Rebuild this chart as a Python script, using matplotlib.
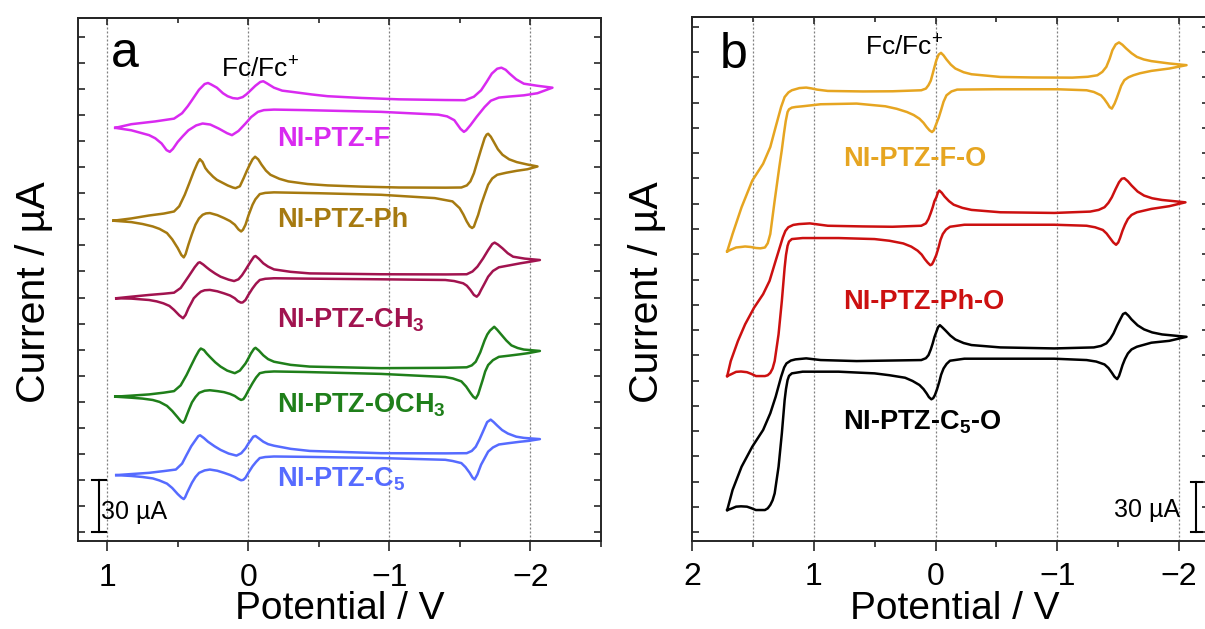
import numpy as np
import matplotlib.pyplot as plt

plt.rcParams['font.family'] = ['Liberation Sans', 'DejaVu Sans']
plt.rcParams['mathtext.fontset'] = 'custom'
plt.rcParams['mathtext.rm'] = 'Liberation Sans'
plt.rcParams['mathtext.it'] = 'Liberation Sans:italic'
plt.rcParams['mathtext.bf'] = 'Liberation Sans:bold'

# ---- panel a: NI-PTZ-X, (potential V, stacked current uA incl. offset), one closed CV loop each
f_pts = [(0.944, 232.6), (0.83, 234.7), (0.66, 236.3), (0.527, 237.9), (0.47, 241.0), (0.43, 245.0),
         (0.40, 248.5), (0.35, 254.5), (0.31, 257.8), (0.286, 258.4), (0.265, 257.6), (0.223, 255.7),
         (0.18, 252.5), (0.147, 250.8), (0.11, 249.7), (0.076, 249.4), (0.04, 250.3), (0.015, 251.8),
         (-0.005, 253.3), (-0.05, 256.8), (-0.085, 259.0), (-0.106, 259.4), (-0.13, 258.3),
         (-0.182, 255.7), (-0.24, 254.0), (-0.309, 253.3), (-0.45, 251.8), (-0.562, 250.8),
         (-0.8, 249.8), (-1.068, 249.0), (-1.4, 248.6), (-1.537, 248.5), (-1.6, 250.5), (-1.651, 254.2),
         (-1.69, 259.0), (-1.727, 263.8), (-1.765, 266.6), (-1.795, 267.2), (-1.825, 266.0),
         (-1.853, 263.8), (-1.9, 260.5), (-1.954, 258.0), (-2.05, 256.8), (-2.157, 255.7),
         (-2.05, 252.5), (-1.954, 251.3), (-1.85, 250.6), (-1.777, 250.0), (-1.72, 248.2),
         (-1.676, 244.6), (-1.62, 239.0), (-1.575, 234.1), (-1.545, 231.2), (-1.529, 230.3),
         (-1.505, 232.0), (-1.461, 237.0), (-1.41, 239.2), (-1.347, 240.2), (-0.942, 241.8),
         (-0.4, 242.8), (-0.182, 243.1), (-0.11, 242.8), (-0.068, 241.8), (-0.02, 238.8),
         (0.02, 235.1), (0.07, 230.8), (0.116, 228.4), (0.15, 229.5), (0.21, 232.2), (0.27, 234.5),
         (0.324, 235.1), (0.37, 234.0), (0.425, 231.2), (0.465, 227.8), (0.501, 224.5),
         (0.535, 220.5), (0.557, 218.8), (0.58, 219.8), (0.615, 223.6), (0.66, 226.6),
         (0.704, 228.4), (0.83, 231.2), (0.944, 232.6)]

ph_pts = [(0.957, 179.2), (0.83, 180.5), (0.704, 182.2), (0.6, 183.3), (0.527, 184.5), (0.49, 187.5),
          (0.451, 194.1), (0.42, 200.5), (0.387, 207.5), (0.36, 212.5), (0.344, 214.6), (0.325, 213.0),
          (0.305, 209.5), (0.286, 207.5), (0.25, 204.5), (0.223, 202.7), (0.147, 199.5), (0.11, 198.3),
          (0.091, 197.9), (0.06, 199.0), (0.033, 203.7), (0.01, 208.0), (-0.01, 211.4), (-0.03, 214.5),
          (-0.048, 216.0), (-0.07, 214.5), (-0.094, 211.4), (-0.125, 208.0), (-0.157, 205.6),
          (-0.22, 203.3), (-0.284, 201.8), (-0.42, 200.3), (-0.562, 199.5), (-0.8, 198.8),
          (-1.068, 198.3), (-1.4, 198.2), (-1.511, 198.3), (-1.55, 199.5), (-1.575, 201.8),
          (-1.6, 206.5), (-1.625, 213.3), (-1.65, 220.0), (-1.676, 226.7), (-1.69, 228.7),
          (-1.701, 229.2), (-1.72, 227.5), (-1.739, 224.8), (-1.77, 220.3), (-1.803, 217.1),
          (-1.85, 214.5), (-1.904, 212.9), (-1.98, 211.5), (-2.051, 210.4),
          (-1.98, 208.8), (-1.904, 207.9), (-1.83, 206.8), (-1.765, 205.6), (-1.73, 203.5),
          (-1.701, 199.9), (-1.675, 194.0), (-1.651, 188.4), (-1.63, 182.5), (-1.613, 178.8),
          (-1.6, 175.8), (-1.587, 175.0), (-1.57, 176.0), (-1.549, 178.8), (-1.525, 182.8),
          (-1.499, 186.4), (-1.448, 190.3), (-1.322, 192.2), (-0.942, 194.1), (-0.5, 195.0),
          (-0.182, 195.5), (-0.12, 195.2), (-0.081, 194.5), (-0.05, 191.5), (-0.03, 188.4),
          (0.0, 182.0), (0.02, 176.9), (0.038, 174.0), (0.051, 173.0), (0.07, 174.2), (0.096, 176.9),
          (0.13, 179.0), (0.172, 180.7), (0.22, 182.4), (0.273, 183.6), (0.3, 183.4), (0.324, 182.6),
          (0.35, 180.5), (0.375, 176.9), (0.4, 171.5), (0.425, 165.4), (0.445, 160.0), (0.458, 158.1),
          (0.475, 159.5), (0.501, 163.5), (0.54, 168.5), (0.577, 172.1), (0.63, 174.5),
          (0.678, 175.9), (0.75, 177.3), (0.83, 178.4), (0.957, 179.2)]

ch3_pts = [(0.937, 134.6), (0.83, 135.5), (0.704, 136.5), (0.6, 137.2), (0.527, 137.8), (0.48, 140.5),
           (0.425, 147.0), (0.38, 152.5), (0.355, 155.0), (0.344, 155.3), (0.32, 154.0), (0.295, 152.3),
           (0.273, 150.9), (0.235, 148.8), (0.197, 147.0), (0.14, 145.3), (0.101, 144.5), (0.07, 145.5),
           (0.045, 147.8), (0.02, 150.9), (-0.015, 155.5), (-0.04, 158.5), (-0.051, 158.9),
           (-0.075, 157.3), (-0.106, 154.7), (-0.14, 152.8), (-0.182, 151.2), (-0.3, 149.8),
           (-0.435, 148.9), (-0.942, 148.4), (-1.4, 148.3), (-1.549, 148.4), (-1.59, 150.0),
           (-1.625, 152.8), (-1.665, 157.5), (-1.701, 162.3), (-1.73, 165.8), (-1.747, 166.6),
           (-1.77, 165.5), (-1.803, 163.3), (-1.84, 160.5), (-1.878, 158.5), (-1.96, 157.4),
           (-2.068, 156.6), (-1.99, 155.5), (-1.929, 154.7), (-1.85, 153.5), (-1.777, 152.4),
           (-1.735, 150.3), (-1.701, 147.0), (-1.675, 143.0), (-1.651, 139.4), (-1.635, 136.8),
           (-1.62, 135.5), (-1.6, 136.5), (-1.575, 139.4), (-1.55, 141.8), (-1.524, 143.2),
           (-1.46, 144.5), (-1.397, 145.1), (-0.942, 145.5), (-0.4, 145.9), (-0.182, 146.1),
           (-0.12, 145.8), (-0.081, 145.1), (-0.055, 143.0), (-0.03, 140.3), (0.0, 136.5),
           (0.02, 133.6), (0.04, 132.2), (0.053, 132.1), (0.075, 133.0), (0.096, 134.6),
           (0.13, 136.2), (0.172, 137.4), (0.22, 138.6), (0.273, 139.4), (0.31, 139.2),
           (0.337, 138.4), (0.36, 136.8), (0.387, 134.6), (0.405, 131.8), (0.425, 128.8),
           (0.445, 125.0), (0.463, 123.1), (0.49, 124.8), (0.527, 127.9), (0.56, 130.2),
           (0.603, 131.7), (0.65, 132.8), (0.704, 133.6), (0.83, 134.4), (0.937, 134.6)]

och3_pts = [(0.944, 78.0), (0.83, 78.6), (0.704, 79.3), (0.6, 80.3), (0.527, 81.2), (0.48, 84.5),
            (0.438, 90.5), (0.405, 96.0), (0.375, 100.9), (0.35, 104.5), (0.337, 105.7), (0.315, 104.8),
            (0.295, 102.8), (0.273, 100.9), (0.235, 97.8), (0.197, 95.3), (0.15, 93.0), (0.096, 91.5),
            (0.06, 93.0), (0.02, 97.1), (0.0, 100.0), (-0.018, 102.8), (-0.04, 105.5), (-0.051, 106.1),
            (-0.075, 104.5), (-0.106, 101.8), (-0.14, 99.6), (-0.182, 98.1), (-0.3, 96.3),
            (-0.435, 95.3), (-0.942, 94.4), (-1.4, 94.6), (-1.549, 94.9), (-1.585, 96.0),
            (-1.613, 98.1), (-1.645, 103.5), (-1.676, 110.4), (-1.695, 113.8), (-1.714, 116.0),
            (-1.744, 118.2), (-1.765, 116.5), (-1.79, 114.1), (-1.83, 110.3), (-1.866, 107.5),
            (-1.91, 106.0), (-1.954, 105.1), (-2.068, 104.3), (-1.99, 103.1), (-1.929, 102.4),
            (-1.85, 101.6), (-1.777, 100.9), (-1.735, 99.0), (-1.701, 96.2), (-1.68, 92.5),
            (-1.663, 87.8), (-1.645, 83.2), (-1.63, 79.3), (-1.613, 76.9), (-1.595, 78.0),
            (-1.575, 80.2), (-1.545, 83.8), (-1.511, 86.8), (-1.45, 88.5), (-1.397, 89.3),
            (-0.942, 91.1), (-0.4, 92.2), (-0.182, 92.5), (-0.12, 92.2), (-0.081, 91.5),
            (-0.055, 89.0), (-0.03, 85.8), (0.0, 81.5), (0.02, 78.4), (0.035, 76.6), (0.051, 76.1),
            (0.07, 76.9), (0.096, 78.4), (0.13, 79.6), (0.172, 80.6), (0.22, 81.2), (0.273, 81.7),
            (0.31, 81.4), (0.349, 80.2), (0.375, 77.8), (0.4, 74.7), (0.42, 70.8), (0.438, 67.1),
            (0.45, 64.5), (0.463, 63.0), (0.48, 64.0), (0.501, 66.1), (0.54, 69.8), (0.577, 72.7),
            (0.63, 75.0), (0.678, 76.1), (0.75, 76.9), (0.83, 77.4), (0.944, 78.0)]

c5_pts = [(0.937, 32.9), (0.83, 33.5), (0.704, 34.2), (0.6, 35.2), (0.514, 36.1), (0.47, 39.5),
          (0.438, 44.5), (0.405, 49.5), (0.375, 53.0), (0.355, 55.3), (0.342, 55.8), (0.315, 54.2),
          (0.286, 52.1), (0.24, 49.5), (0.197, 47.4), (0.14, 45.3), (0.084, 44.1), (0.05, 45.5),
          (0.02, 48.3), (0.0, 51.0), (-0.018, 53.0), (-0.035, 55.0), (-0.051, 55.4), (-0.075, 54.0),
          (-0.106, 52.1), (-0.14, 50.7), (-0.182, 49.8), (-0.3, 48.0), (-0.435, 46.8), (-0.942, 45.5),
          (-1.4, 45.4), (-1.549, 45.5), (-1.585, 46.8), (-1.613, 49.2), (-1.64, 53.5), (-1.663, 57.7),
          (-1.694, 63.4), (-1.719, 64.8), (-1.74, 63.4), (-1.765, 61.4), (-1.8, 58.8), (-1.841, 56.8),
          (-1.9, 55.0), (-1.954, 54.3), (-2.068, 53.6), (-1.99, 52.6), (-1.929, 52.1), (-1.85, 51.3),
          (-1.777, 50.5), (-1.735, 48.8), (-1.701, 46.4), (-1.675, 42.5), (-1.651, 38.9),
          (-1.635, 35.5), (-1.625, 33.3), (-1.605, 30.4), (-1.59, 31.5), (-1.57, 34.2), (-1.54, 37.5),
          (-1.511, 39.8), (-1.45, 41.0), (-1.397, 41.7), (-0.942, 42.7), (-0.4, 43.4), (-0.182, 43.6),
          (-0.12, 43.3), (-0.081, 42.7), (-0.055, 40.5), (-0.03, 38.0), (0.0, 34.2), (0.02, 31.4),
          (0.035, 30.2), (0.051, 29.9), (0.07, 30.6), (0.096, 31.8), (0.13, 33.0), (0.172, 34.2),
          (0.22, 35.4), (0.273, 36.1), (0.31, 35.6), (0.349, 34.2), (0.375, 31.8), (0.4, 28.5),
          (0.418, 25.5), (0.433, 23.0), (0.448, 20.2), (0.458, 19.1), (0.475, 20.0), (0.501, 22.0),
          (0.54, 25.5), (0.577, 28.0), (0.63, 29.8), (0.678, 31.0), (0.75, 31.8), (0.83, 32.4),
          (0.937, 32.9)]

# ---- panel b: NI-PTZ-X-O
fo_pts = [(1.713, 166.7), (1.669, 177.0), (1.595, 192.9), (1.507, 208.7), (1.418, 218.7), (1.359, 228.6),
          (1.315, 240.5), (1.270, 252.4), (1.241, 258.3), (1.21, 261.0), (1.182, 262.3), (1.12, 263.6),
          (1.064, 263.9), (1.02, 263.4), (0.975, 262.7), (0.886, 261.9), (0.6, 261.6), (0.355, 261.7),
          (0.118, 262.3), (0.08, 263.3), (0.059, 265.3), (0.04, 268.0), (0.024, 272.2), (0.01, 276.0),
          (-0.006, 280.2), (-0.025, 283.5), (-0.044, 284.5), (-0.065, 283.0), (-0.089, 280.6),
          (-0.125, 277.5), (-0.162, 275.2), (-0.23, 273.0), (-0.295, 271.8), (-0.532, 270.2),
          (-0.8, 269.9), (-1.123, 269.8), (-1.25, 270.3), (-1.329, 271.2), (-1.37, 273.2),
          (-1.403, 276.2), (-1.43, 281.0), (-1.453, 286.1), (-1.48, 289.5), (-1.507, 290.7),
          (-1.535, 289.3), (-1.566, 287.1), (-1.61, 284.3), (-1.654, 282.1), (-1.71, 280.6),
          (-1.773, 279.6), (-1.92, 278.2), (-2.062, 277.2), (-1.92, 275.2), (-1.773, 273.8),
          (-1.68, 272.4), (-1.625, 271.2), (-1.585, 270.0), (-1.551, 268.3), (-1.525, 265.0),
          (-1.507, 261.3), (-1.488, 257.5), (-1.471, 254.4), (-1.448, 251.4), (-1.43, 252.3),
          (-1.412, 254.4), (-1.385, 257.2), (-1.359, 259.3), (-1.3, 261.3), (-1.241, 262.3),
          (-1.004, 262.9), (-0.5, 262.9), (-0.177, 262.7), (-0.13, 261.6), (-0.089, 259.3),
          (-0.065, 255.5), (-0.044, 250.4), (-0.025, 246.0), (-0.006, 242.5), (0.015, 238.5),
          (0.030, 237.5), (0.05, 238.5), (0.074, 240.5), (0.1, 243.0), (0.133, 245.4), (0.18, 247.6),
          (0.236, 249.4), (0.32, 251.3), (0.414, 252.8), (0.65, 254.4), (0.945, 254.0),
          (1.093, 252.8), (1.15, 252.4), (1.182, 252.0), (1.205, 251.0), (1.217, 249.4),
          (1.232, 244.0), (1.247, 236.5), (1.265, 226.5), (1.285, 216.7), (1.323, 196.8),
          (1.359, 177.0), (1.38, 171.5), (1.403, 169.0), (1.44, 168.5), (1.477, 168.7),
          (1.52, 169.3), (1.566, 169.6), (1.60, 169.3), (1.640, 169.0), (1.68, 167.8), (1.713, 166.7)]

pho_pts = [(1.713, 92.7), (1.684, 101.6), (1.625, 113.5), (1.566, 123.4), (1.492, 133.3), (1.418, 141.3),
           (1.365, 149.2), (1.315, 161.1), (1.256, 175.0), (1.235, 178.8), (1.211, 181.0), (1.17, 182.4),
           (1.123, 182.9), (1.034, 183.3), (0.886, 181.9), (0.6, 181.5), (0.355, 181.3), (0.118, 181.9),
           (0.08, 183.3), (0.059, 185.9), (0.04, 189.5), (0.024, 192.9), (0.01, 196.5), (-0.006, 198.8),
           (-0.018, 201.5), (-0.030, 202.8), (-0.05, 201.5), (-0.074, 199.2), (-0.11, 196.5),
           (-0.148, 194.4), (-0.22, 192.5), (-0.295, 191.3), (-0.532, 189.9), (-0.975, 189.5),
           (-1.270, 190.3), (-1.34, 191.3), (-1.388, 192.9), (-1.42, 195.5), (-1.448, 198.8),
           (-1.48, 203.8), (-1.507, 207.7), (-1.53, 209.8), (-1.551, 210.1), (-1.58, 208.3),
           (-1.610, 205.8), (-1.66, 202.2), (-1.713, 199.8), (-1.78, 198.2), (-1.861, 197.2),
           (-2.053, 195.8), (-1.920, 193.5), (-1.773, 191.9), (-1.654, 189.9), (-1.61, 188.3),
           (-1.580, 185.9), (-1.556, 182.5), (-1.536, 179.0), (-1.515, 174.5), (-1.501, 172.0),
           (-1.483, 170.6), (-1.46, 172.0), (-1.433, 174.6), (-1.405, 177.3), (-1.374, 179.4),
           (-1.31, 181.0), (-1.241, 181.9), (-0.975, 182.5), (-0.236, 182.5), (-0.118, 181.3),
           (-0.085, 179.6), (-0.059, 177.0), (-0.04, 173.5), (-0.024, 169.0), (-0.005, 164.5),
           (0.015, 161.1), (0.03, 159.0), (0.044, 158.5), (0.065, 160.0), (0.089, 162.1),
           (0.115, 164.8), (0.148, 167.1), (0.2, 169.5), (0.266, 171.4), (0.38, 173.0),
           (0.502, 174.0), (0.798, 174.6), (1.093, 174.6), (1.182, 174.0), (1.205, 172.5),
           (1.217, 170.0), (1.23, 164.5), (1.241, 157.1), (1.264, 137.3), (1.291, 117.5),
           (1.323, 101.6), (1.34, 97.2), (1.359, 94.6), (1.38, 93.2), (1.403, 92.7), (1.477, 92.7),
           (1.515, 94.0), (1.551, 95.0), (1.60, 95.4), (1.640, 95.2), (1.68, 93.8), (1.713, 92.7)]

c5o_pts = [(1.713, 13.2), (1.669, 25.1), (1.595, 38.9), (1.507, 50.8), (1.418, 60.7), (1.359, 70.6),
           (1.315, 80.4), (1.270, 92.3), (1.245, 97.8), (1.226, 100.2), (1.19, 101.9), (1.152, 102.6),
           (1.064, 103.2), (0.945, 102.2), (0.650, 101.6), (0.118, 102.2), (0.08, 103.3), (0.059, 105.1),
           (0.04, 108.5), (0.024, 112.1), (0.01, 115.8), (-0.006, 119.0), (-0.02, 121.7),
           (-0.035, 122.9), (-0.055, 121.6), (-0.083, 119.6), (-0.12, 116.8), (-0.162, 114.4),
           (-0.23, 112.3), (-0.295, 111.1), (-0.532, 109.7), (-0.975, 109.1), (-1.300, 109.7),
           (-1.36, 110.6), (-1.403, 112.1), (-1.435, 114.8), (-1.462, 118.0), (-1.49, 122.5),
           (-1.521, 126.9), (-1.54, 129.5), (-1.560, 130.2), (-1.585, 128.5), (-1.610, 126.3),
           (-1.66, 122.8), (-1.713, 120.4), (-1.78, 118.6), (-1.861, 117.4), (-2.062, 116.0),
           (-1.920, 113.6), (-1.773, 112.5), (-1.654, 110.1), (-1.61, 108.5), (-1.580, 106.1),
           (-1.556, 102.8), (-1.536, 99.2), (-1.52, 95.5), (-1.507, 92.7), (-1.492, 90.9),
           (-1.47, 92.3), (-1.448, 94.7), (-1.42, 97.5), (-1.388, 99.6), (-1.32, 101.3),
           (-1.241, 102.2), (-0.975, 103.0), (-0.236, 103.0), (-0.118, 101.8), (-0.09, 99.9),
           (-0.065, 97.2), (-0.045, 93.5), (-0.030, 89.3), (-0.012, 85.0), (0.006, 81.4),
           (0.02, 79.6), (0.035, 78.9), (0.055, 80.2), (0.074, 82.4), (0.1, 85.0), (0.133, 87.4),
           (0.19, 89.8), (0.251, 91.7), (0.38, 93.2), (0.502, 94.3), (0.798, 95.3), (1.093, 95.3),
           (1.182, 94.3), (1.205, 92.8), (1.217, 90.3), (1.23, 85.0), (1.241, 78.5), (1.264, 58.7),
           (1.291, 38.9), (1.323, 23.1), (1.34, 19.0), (1.359, 16.2), (1.38, 14.2), (1.403, 13.2),
           (1.477, 13.2), (1.515, 14.3), (1.551, 15.2), (1.60, 15.4), (1.640, 15.2), (1.68, 14.0),
           (1.713, 13.2)]

labels_a = ['NI-PTZ-F', 'NI-PTZ-Ph', r'NI-PTZ-CH$_\mathbf{3}$',
            r'NI-PTZ-OCH$_\mathbf{3}$', r'NI-PTZ-C$_\mathbf{5}$']
colors_a = ['#D92AF0', '#A67A10', '#A1134F', '#1F7F1A', '#566BFF']
label_y_a = [222.3, 175.6, 117.8, 69.0, 26.1]

labels_b = ['NI-PTZ-F-O', 'NI-PTZ-Ph-O', r'NI-PTZ-C$_\mathbf{5}$-O']
colors_b = ['#E6A521', '#CC1010', '#000000']
label_y_b = [217.3, 132.3, 60.7]

W, H = 1205, 629
fig = plt.figure(figsize=(W / 100, H / 100), dpi=100)
ax_a = fig.add_axes([78.3 / W, (H - 541) / H, 522.5 / W, 522.7 / H])
ax_b = fig.add_axes([692.3 / W, (H - 540.7) / H, 517.1 / W, 523.4 / H])

spine_c = '#262626'


def style(ax, xlim, ylim, major, minor, grid):
    ax.set_xlim(*xlim)
    ax.set_ylim(*ylim)
    for g in grid:
        ax.axvline(g, color='#808080', ls=(0, (1.6, 1.6)), lw=0.9, zorder=0)
    for s in ax.spines.values():
        s.set_linewidth(1.4)
        s.set_color(spine_c)
    ax.set_xticks(major)
    ax.set_xticks(minor, minor=True)
    ax.set_yticks(np.arange(0, ylim[1], 15))
    ax.tick_params(axis='y', which='both', direction='in', left=True, right=True,
                   length=5, width=1.2, color=spine_c, labelleft=False)
    ax.tick_params(axis='x', which='major', direction='out', length=7, width=1.2,
                   color=spine_c, labelsize=23, pad=8.5)
    ax.tick_params(axis='x', which='minor', direction='out', length=4, width=1.2,
                   color=spine_c)
    top = ax.secondary_xaxis('top')
    top.set_xticks(major)
    top.set_xticks(minor, minor=True)
    top.tick_params(which='major', direction='in', length=5, width=1.2,
                    color=spine_c, labeltop=False)
    top.tick_params(which='minor', direction='in', length=3.5, width=1.2,
                    color=spine_c)
    top.spines['top'].set_linewidth(1.4)
    top.spines['top'].set_color(spine_c)


style(ax_a, (1.206, -2.5), (-5.0, 295.6), [1, 0, -1, -2], [0.5, -0.5, -1.5, -2.5],
      [1, 0, -1, -2])
style(ax_b, (2.0, -2.25), (-5.0, 305.6), [2, 1, 0, -1, -2], [1.5, 0.5, -0.5, -1.5],
      [1.5, 1, 0, -1, -2])

curves_a = [f_pts, ph_pts, ch3_pts, och3_pts, c5_pts]
for pts, c, lab, ly in zip(curves_a, colors_a, labels_a, label_y_a):
    v, i = np.array(pts).T
    ax_a.plot(v, i, color=c, lw=1.8, solid_joinstyle='round')
    ax_a.text(-0.205, ly, lab, color=c, fontsize=19.5, fontweight='bold',
              ha='left', va='baseline')

curves_b = [fo_pts, pho_pts, c5o_pts]
for pts, c, lab, ly in zip(curves_b, colors_b, labels_b, label_y_b):
    v, i = np.array(pts).T
    ax_b.plot(v, i, color=c, lw=1.8, solid_joinstyle='round')
    ax_b.text(0.761, ly, lab, color=c, fontsize=19.5, fontweight='bold',
              ha='left', va='baseline')

# panel letters and Fc/Fc+ marks
ax_a.text(0.977, 267.8, 'a', fontsize=36, ha='left', va='baseline')
ax_b.text(1.772, 275.3, 'b', fontsize=36, ha='left', va='baseline')
ax_a.text(0.194, 261.7, r'Fc/Fc$^{+}$', fontsize=19, ha='left', va='baseline')
ax_b.text(0.583, 283.2, r'Fc/Fc$^{+}$', fontsize=19, ha='left', va='baseline')

# 30 uA scale bars
bar_len = 30
for ax, bx, cap in [(ax_a, 1.06, 0.05), (ax_b, -2.142, 0.044)]:
    ax.plot([bx, bx], [0, bar_len], color='k', lw=1.5)
    ax.plot([bx - cap, bx + cap], [0, 0], color='k', lw=1.5)
    ax.plot([bx - cap, bx + cap], [bar_len, bar_len], color='k', lw=1.5)
ax_a.text(1.042, 7.5, '30 µA', fontsize=18, ha='left', va='baseline')
ax_b.text(-2.009, 9.3, '30 µA', fontsize=18, ha='right', va='baseline')

# axis titles
for xc in [339.5, 954.5]:
    fig.text(xc / W, 10 / H, 'Potential / V', fontsize=28, ha='center', va='baseline')
for xc in [33.7, 647.5]:
    fig.text(xc / W, (H - 292.5) / H, 'Current / µA', fontsize=29.5, rotation=90,
             ha='center', va='center')

fig.savefig('out.png', dpi=100)
